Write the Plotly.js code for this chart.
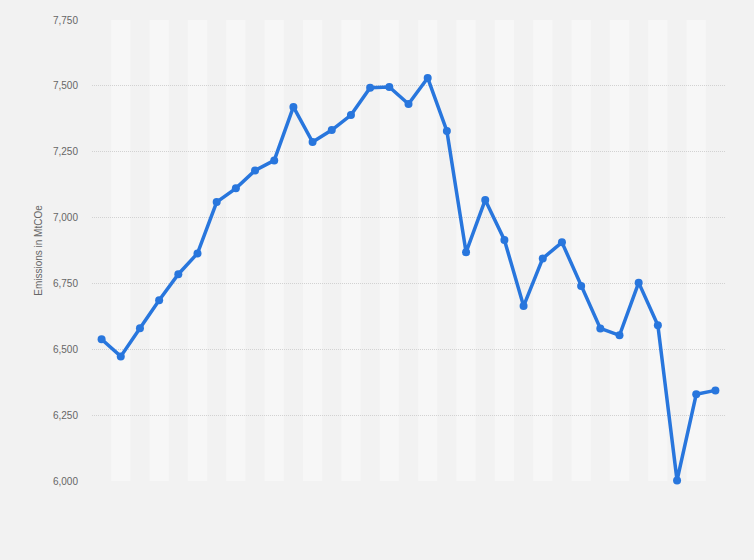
<!DOCTYPE html>
<html>
<head>
<meta charset="utf-8">
<script src="https://cdn.plot.ly/plotly-3.0.1.min.js"></script>
<style>
  html, body { margin: 0; padding: 0; background: #f2f2f2; }
  #chart { width: 754px; height: 560px; }
</style>
</head>
<body>
<div id="chart"></div>
<script>
const years = [1990,1991,1992,1993,1994,1995,1996,1997,1998,1999,2000,2001,2002,2003,2004,2005,2006,2007,2008,2009,2010,2011,2012,2013,2014,2015,2016,2017,2018,2019,2020,2021,2022];
const emissions = [6538,6473,6580,6686,6785,6864,7059,7111,7179,7217,7420,7287,7332,7389,7493,7496,7431,7530,7329,6868,7067,6915,6664,6845,6906,6740,6579,6553,6753,6591,6002,6329,6344];
const yTicks = [6000,6250,6500,6750,7000,7250,7500,7750];
const yTickText = ["6,000","6,250","6,500","6,750","7,000","7,250","7,500","7,750"];
const yTitle = "Emissions in MtCOe";

const shapes = years.filter((y, i) => i % 2 === 1).map(y => ({
  type: 'rect', xref: 'x', yref: 'y', layer: 'below',
  x0: y - 0.5, x1: y + 0.5, y0: 6000, y1: 7750,
  fillcolor: '#f7f7f7', line: { width: 0 }
}));

const trace = {
  x: years, y: emissions, type: 'scatter', mode: 'lines+markers',
  line: { color: '#2876dd', width: 3.5 },
  marker: { color: '#2876dd', size: 8 },
  cliponaxis: false,
  hoverinfo: 'x+y'
};

const layout = {
  width: 754, height: 560,
  paper_bgcolor: '#f2f2f2', plot_bgcolor: '#f2f2f2',
  margin: { l: 92, r: 29, t: 20, b: 79 },
  showlegend: false,
  font: { family: '"Liberation Sans", Arial, sans-serif', color: '#666666', size: 10 },
  xaxis: {
    range: [1989.5, 2022.5], showticklabels: false, showgrid: false,
    zeroline: false, showline: false, ticks: ''
  },
  yaxis: {
    range: [6000, 7750], tickvals: yTicks, ticktext: yTickText,
    showgrid: true, gridcolor: '#d2d2d2', griddash: '1px,1px', gridwidth: 1,
    zeroline: false, showline: false, ticks: '',
    ticklabelstandoff: 13,
    tickfont: { size: 10, color: '#666666' },
    title: { text: yTitle, font: { size: 10, color: '#666666' }, standoff: 8 }
  },
  shapes: shapes
};

Plotly.newPlot('chart', [trace], layout, { displayModeBar: false, staticPlot: true });
</script>
</body>
</html>
